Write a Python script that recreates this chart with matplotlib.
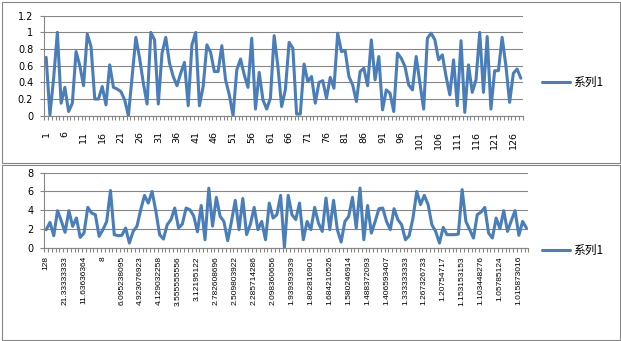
import matplotlib
matplotlib.use("Agg")
import matplotlib.pyplot as plt
from matplotlib.patches import Rectangle

# ---- data ----
top_vals = [0.70, 0.01, 0.45, 1.00, 0.15, 0.34, 0.05, 0.15, 0.77, 0.60,
            0.36, 0.98, 0.83, 0.20, 0.20, 0.35, 0.13, 0.61, 0.34, 0.32,
            0.29, 0.19, 0.00, 0.47, 0.94, 0.69, 0.39, 0.14, 1.00, 0.91,
            0.14, 0.75, 0.94, 0.63, 0.47, 0.36, 0.51, 0.64, 0.12, 0.85,
            1.00, 0.12, 0.35, 0.85, 0.76, 0.53, 0.53, 0.84, 0.43, 0.25,
            0.00, 0.55, 0.68, 0.49, 0.34, 0.93, 0.08, 0.52, 0.19, 0.08,
            0.21, 0.96, 0.59, 0.11, 0.31, 0.88, 0.81, 0.02, 0.02, 0.62,
            0.41, 0.47, 0.15, 0.40, 0.42, 0.21, 0.46, 0.33, 0.99, 0.77,
            0.78, 0.47, 0.37, 0.17, 0.53, 0.57, 0.36, 0.91, 0.43, 0.71,
            0.07, 0.31, 0.27, 0.05, 0.75, 0.69, 0.59, 0.37, 0.31, 0.71,
            0.39, 0.08, 0.93, 0.99, 0.91, 0.67, 0.73, 0.47, 0.25, 0.67,
            0.12, 0.90, 0.04, 0.61, 0.28, 0.43, 1.00, 0.28, 0.95, 0.08,
            0.54, 0.54, 0.94, 0.60, 0.16, 0.51, 0.56, 0.45]

bot_vals = [1.92, 2.70, 1.28, 3.95, 2.85, 1.64, 3.95, 2.28, 3.17, 1.10,
            1.56, 4.30, 3.70, 3.52, 1.21, 1.92, 2.80, 6.10, 1.39, 1.28,
            1.32, 2.10, 0.50, 1.74, 2.28, 4.05, 5.58, 4.76, 6.00, 3.90,
            1.39, 0.92, 2.45, 3.00, 4.23, 2.10, 2.52, 4.23, 4.05, 3.40,
            1.70, 4.50, 0.85, 6.35, 2.30, 5.37, 3.34, 2.80, 0.75, 2.80,
            5.05, 1.92, 5.25, 1.40, 2.50, 4.30, 1.92, 2.80, 0.85, 4.76,
            3.16, 3.52, 5.58, 0.04, 5.58, 3.52, 3.00, 4.76, 0.85, 2.80,
            1.92, 4.30, 2.63, 1.74, 5.30, 1.92, 5.05, 1.92, 0.60, 2.80,
            3.34, 5.37, 2.10, 6.36, 0.85, 4.50, 1.56, 2.80, 4.16, 4.23,
            2.80, 1.92, 4.16, 3.00, 2.45, 0.85, 1.28, 3.16, 6.00, 4.60,
            5.58, 4.60, 2.45, 1.74, 0.50, 2.17, 1.39, 1.39, 1.39, 1.45,
            6.20, 2.80, 1.92, 1.03, 3.52, 3.80, 4.30, 1.56, 1.03, 3.16,
            2.03, 3.95, 1.74, 2.88, 3.95, 1.32, 2.80, 2.10]

top_xlabels = ["1", "6", "11", "16", "21", "26", "31", "36", "41", "46",
               "51", "56", "61", "66", "71", "76", "81", "86", "91", "96",
               "101", "106", "111", "116", "121", "126"]
bot_xlabels = ["128", "21.33333333", "11.63636364", "8", "6.095238095",
               "4.923076923", "4.129032258", "3.555555556", "3.12195122",
               "2.782608696", "2.509803922", "2.285714286", "2.098360656",
               "1.939393939", "1.802816901", "1.684210526", "1.580246914",
               "1.488372093", "1.406593407", "1.333333333", "1.267326733",
               "1.20754717", "1.153153153", "1.103448276", "1.05785124",
               "1.015873016"]
top_yticks = [0, 0.2, 0.4, 0.6, 0.8, 1, 1.2]
top_ylabels = ["0", "0.2", "0.4", "0.6", "0.8", "1", "1.2"]
bot_yticks = [0, 2, 4, 6, 8]
bot_ylabels = ["0", "2", "4", "6", "8"]
series_name = "系列1"

LINE = "#4a7ebb"
GRID = "#868686"
W, H = 621, 341

fig = plt.figure(figsize=(W / 100, H / 100), dpi=100)


def px_axes(x0, y0, x1, y1):
    # pixel box (top-left origin) -> figure axes
    return fig.add_axes([x0 / W, 1 - y1 / H, (x1 - x0) / W, (y1 - y0) / H])


def chart(ax, vals, yticks, ylabels, xlabels, xfont, xpad, leg_y):
    n = len(vals)
    xs = list(range(1, n + 1))
    ax.plot(xs, vals, color=LINE, lw=2.2, solid_joinstyle="round",
            solid_capstyle="round", label=series_name)
    ax.set_xlim(0.5, n + 0.5)
    ax.set_ylim(yticks[0], yticks[-1])
    ax.set_yticks(yticks)
    ax.set_yticklabels(ylabels, fontsize=7, family="DejaVu Sans")
    ax.yaxis.grid(True, color=GRID, lw=0.8)
    ax.set_axisbelow(True)
    for s in ["top", "right"]:
        ax.spines[s].set_visible(False)
    for s in ["left", "bottom"]:
        ax.spines[s].set_color(GRID)
        ax.spines[s].set_linewidth(0.8)
    ax.tick_params(axis="y", length=3, width=0.8, color=GRID, pad=5)
    # category labels every 5th point, tick marks between categories
    ax.set_xticks(xs[::5])
    ax.set_xticklabels(xlabels, rotation=90, **xfont)
    ax.set_xticks([i + 0.5 for i in range(0, n + 1)], minor=True)
    ax.tick_params(axis="x", which="major", length=0, pad=xpad)
    ax.tick_params(axis="x", which="minor", length=3, width=0.8, color=GRID)
    ax.legend(loc="center left", bbox_to_anchor=(542 / W, 1 - leg_y / H),
              bbox_transform=fig.transFigure, frameon=False, borderpad=0,
              borderaxespad=0, handlelength=2.4, handletextpad=0.2,
              prop={"family": ["Noto Sans CJK SC", "DejaVu Sans"], "size": 8.5})


ax1 = px_axes(44.3, 15.7, 522.7, 115.7)
chart(ax1, top_vals, top_yticks, top_ylabels, top_xlabels,
      {"fontsize": 6.8, "family": "DejaVu Sans"}, 11, 82.3)

ax2 = px_axes(44.3, 172.7, 528.3, 247.7)
chart(ax2, bot_vals, bot_yticks, bot_ylabels, bot_xlabels,
      {"fontsize": 6.0, "family": "Liberation Sans"}, 6, 250.7)

# chart frames
for y0, y1 in [(1.5, 162.5), (164.5, 339.5)]:
    fig.add_artist(Rectangle((1.5 / W, 1 - y1 / H), 618 / W, (y1 - y0) / H,
                             transform=fig.transFigure, fill=False,
                             ec=GRID, lw=0.8))

fig.savefig("out.png", dpi=100)
